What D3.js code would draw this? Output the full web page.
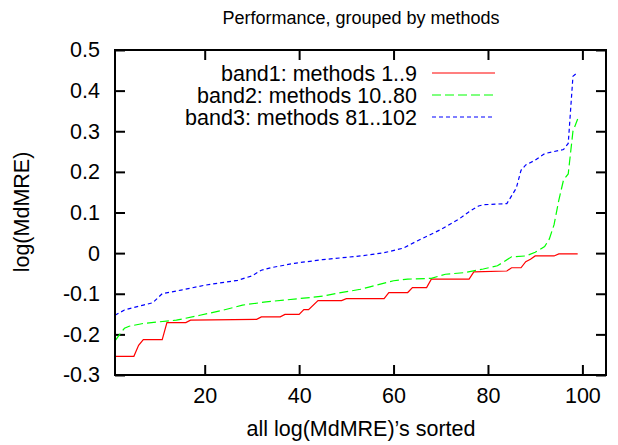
<!DOCTYPE html>
<html><head><meta charset="utf-8">
<script src="https://cdn.jsdelivr.net/npm/d3@7"></script>
<style>body{margin:0;background:#fff}svg{display:block}text{font-family:"Liberation Sans",Arial,sans-serif;fill:#000}</style>
</head><body>
<svg id="c" width="618" height="445"></svg>
<script>
const title = "Performance, grouped by methods";
const xLabel = "all log(MdMRE)\u2019s sorted";
const yLabel = "log(MdMRE)";
const xTicks = [20, 40, 60, 80, 100];
const yTicks = [-0.3, -0.2, -0.1, 0, 0.1, 0.2, 0.3, 0.4, 0.5];
const seriesNames = ["band1: methods 1..9", "band2: methods 10..80", "band3: methods 81..102"];
const seriesColors = ["#ff0000", "#00ff00", "#0000ff"];
const seriesDash = ["none", "9,4", "4,3"];

const band1X = [1,5,6,7,11,12,16,17,31,32,36,37,40,41,42,44,49,50,58,59,63,64,67,68,76,77,84,85,87,88,89,90,94,95,99];
const band1Y = [-0.254,-0.254,-0.227,-0.213,-0.213,-0.171,-0.171,-0.165,-0.163,-0.157,-0.157,-0.151,-0.151,-0.139,-0.139,-0.117,-0.117,-0.112,-0.112,-0.097,-0.097,-0.085,-0.085,-0.064,-0.064,-0.046,-0.044,-0.036,-0.036,-0.021,-0.015,-0.007,-0.007,-0.002,-0.002];

const band2X = [1,2,3,4,7,14,19,24,28,33,40,45,48,53,55,60,63,68,71,75,79,82,83,85,88,90,92,93,94,95,96,97,98,99];
const band2Y = [-0.216,-0.200,-0.185,-0.180,-0.173,-0.165,-0.153,-0.140,-0.128,-0.120,-0.112,-0.106,-0.099,-0.089,-0.083,-0.068,-0.064,-0.062,-0.052,-0.048,-0.039,-0.031,-0.024,-0.009,-0.007,0.002,0.016,0.035,0.07,0.13,0.18,0.195,0.30,0.33];

const band3X = [1,3,7,9,11,15,20,27,30,32,34,39,45,53,58,62,65,70,74,76,78,79,84,86,87,88,90,92,96,97,98,99];
const band3Y = [-0.153,-0.140,-0.128,-0.122,-0.100,-0.091,-0.079,-0.067,-0.056,-0.042,-0.036,-0.025,-0.016,-0.007,0.001,0.012,0.030,0.058,0.085,0.102,0.116,0.119,0.122,0.160,0.204,0.217,0.229,0.245,0.255,0.27,0.435,0.445];

const seriesX = [band1X, band2X, band3X];
const seriesY = [band1Y, band2Y, band3Y];

const FS = 21.5;
const L = 115, R = 606, T = 50, B = 375;
const svg = d3.select("#c");
const x = d3.scaleLinear().domain([1, 105]).range([L, R]);
const y = d3.scaleLinear().domain([-0.3, 0.5]).range([B, T]);
const tick = 10;

const gB = svg.append("g").attr("transform", `translate(0,${B})`)
  .call(d3.axisBottom(x).tickValues(xTicks).tickSizeInner(-tick).tickSizeOuter(0).tickPadding(13).tickFormat(d3.format("d")));
const gT = svg.append("g").attr("transform", `translate(0,${T})`)
  .call(d3.axisTop(x).tickValues(xTicks).tickSizeInner(-tick).tickSizeOuter(0).tickFormat(""));
const gL = svg.append("g").attr("transform", `translate(${L},0)`)
  .call(d3.axisLeft(y).tickValues(yTicks).tickSizeInner(-tick).tickSizeOuter(0).tickPadding(15)
    .tickFormat(d => Math.abs(d) < 1e-9 ? "0" : d3.format(".1f")(d).replace("\u2212","-")));
const gR = svg.append("g").attr("transform", `translate(${R},0)`)
  .call(d3.axisRight(y).tickValues(yTicks).tickSizeInner(-tick).tickSizeOuter(0).tickFormat(""));
[gB, gT, gL, gR].forEach(g => {
  g.select(".domain").remove();
  g.selectAll(".tick line").attr("stroke", "#000").attr("stroke-width", 2);
  g.selectAll("text").attr("font-size", FS).attr("font-family", "Liberation Sans, Arial, sans-serif").attr("fill", "#000");
});

const line = d3.line().x(d => x(d[0])).y(d => y(d[1]));
seriesX.forEach((xs, i) => {
  const pts = xs.map((v, j) => [v, seriesY[i][j]]);
  svg.append("path").datum(pts).attr("d", line)
    .attr("fill", "none").attr("stroke", seriesColors[i]).attr("stroke-width", 1.2)
    .attr("stroke-dasharray", seriesDash[i]);
});

svg.append("rect").attr("x", L).attr("y", T).attr("width", R - L).attr("height", B - T)
  .attr("fill", "none").attr("stroke", "#000").attr("stroke-width", 2);

seriesNames.forEach((name, i) => {
  const yy = 73 + i * 22;
  svg.append("text").attr("x", 417).attr("y", yy).attr("dy", "0.35em")
    .attr("text-anchor", "end").attr("font-size", FS).text(name);
  svg.append("line").attr("x1", 432).attr("x2", 495).attr("y1", yy).attr("y2", yy)
    .attr("stroke", seriesColors[i]).attr("stroke-width", 1.2).attr("stroke-dasharray", seriesDash[i]);
});

svg.append("text").attr("x", 361).attr("y", 24).attr("text-anchor", "middle").attr("font-size", 18).text(title);
svg.append("text").attr("x", 361).attr("y", 436).attr("text-anchor", "middle").attr("font-size", FS).text(xLabel);
svg.append("text").attr("transform", "translate(29,212) rotate(-90)").attr("text-anchor", "middle").attr("font-size", FS).text(yLabel);
</script>
</body></html>
